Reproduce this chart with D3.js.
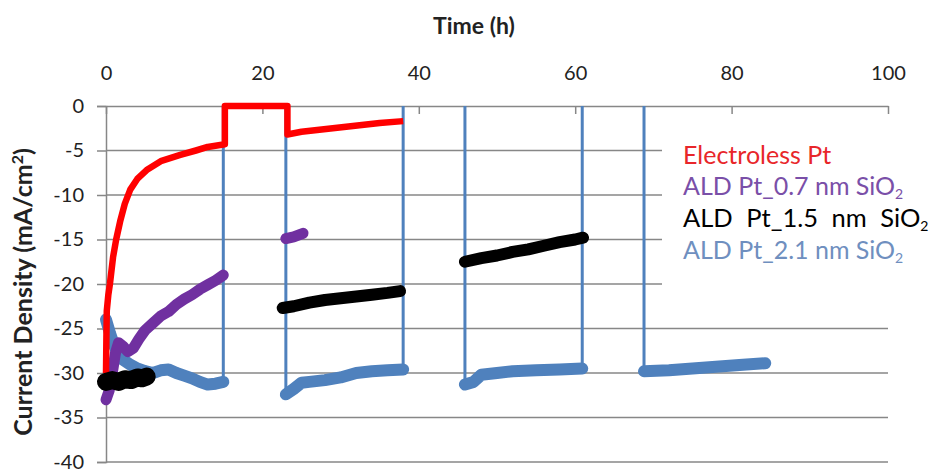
<!DOCTYPE html>
<html>
<head>
<meta charset="utf-8">
<script src="https://cdn.jsdelivr.net/npm/d3@7"></script>
<style>
  html, body { margin: 0; padding: 0; background: #fff; }
  svg { display: block; font-family: Lato, "Open Sans", sans-serif; }
</style>
</head>
<body>
<div id="chart"></div>
<script>
// ---- data ----
var timeTicks = [0, 20, 40, 60, 80, 100]
var densityTicks = [0, -5, -10, -15, -20, -25, -30, -35, -40]

var seriesNames = ['Electroless Pt', 'ALD Pt_0.7 nm SiO', 'ALD Pt_1.5 nm SiO', 'ALD Pt_2.1 nm SiO']
var seriesColors = ['#ff0000', '#7030a0', '#000000', '#4f81bd']
var legendColors = ['#e8262a', '#7a4fa8', '#000000', '#6f8fbf']

// electroless Pt: one continuous trace (open circuit at 0 between 15 and 23 h)
var electrolessPt = [
  [0, -30], [0.05, -26], [0.1, -23], [0.3, -21.2], [0.5, -20], [0.9, -17], [1.3, -15],
  [1.8, -13], [2.4, -11], [3.1, -9.4], [4, -8.2], [5.2, -7.2], [7, -6.2], [9.5, -5.5],
  [11.5, -5], [13, -4.6], [15.2, -4.3], [15.2, 0], [23.2, 0], [23.2, -3.2], [25, -2.9],
  [27, -2.7], [29, -2.5], [31, -2.3], [33, -2.1], [35, -1.9], [38, -1.7]
]

// ALD Pt 0.7 nm SiO2
var ald07 = [
  [[0, -33], [0.4, -32], [0.8, -30], [1.2, -27.8], [1.6, -26.6], [2.2, -27], [2.8, -27.6],
   [3.5, -27.2], [4.2, -26.2], [5, -25.2], [6, -24.4], [7, -23.6], [8, -23.1], [9, -22.3],
   [10, -21.7], [11, -21.2], [12, -20.6], [13, -20.1], [14, -19.6], [15, -19]],
  [[23, -14.9], [24, -14.7], [25.2, -14.3]]
]

// ALD Pt 1.5 nm SiO2
var ald15 = [
  [[0, -31], [0.8, -30.8], [1.6, -31], [2.4, -30.7], [3.2, -30.8], [4, -30.5],
   [4.6, -30.6], [5.2, -30.4]],
  [[22.6, -22.7], [24, -22.5], [26, -22.1], [28, -21.8], [30, -21.6], [32, -21.4],
   [34, -21.2], [36, -21], [37.6, -20.8]],
  [[45.9, -17.5], [48, -17.1], [50, -16.8], [52, -16.4], [54, -16.1], [56, -15.7],
   [58, -15.3], [60, -15], [61, -14.8]]
]

// ALD Pt 2.1 nm SiO2 (drops to 0 between runs)
var ald21 = [
  [[0, -24], [0.5, -25.5], [1, -26.8], [1.5, -27.8], [2, -28.4], [3, -29], [4, -29.5],
   [5, -29.8], [6, -30], [7, -29.7], [8, -29.6], [9, -30], [10, -30.3], [11, -30.6],
   [12, -31], [13, -31.3], [14, -31.2], [15, -31]],
  [[23, -32.4], [24, -31.8], [25, -31.1], [26, -31], [28, -30.8], [30, -30.5], [32, -30],
   [34, -29.8], [36, -29.7], [38, -29.6]],
  [[45.9, -31.3], [47, -31], [48, -30.2], [50, -30], [52, -29.8], [55, -29.7],
   [58, -29.6], [60.9, -29.5]],
  [[68.8, -29.8], [72, -29.7], [75, -29.5], [78, -29.3], [81, -29.1], [84.3, -28.9]]
]

// ---- setup ----
var width = 938, height = 470
var plotLeft = 106, plotRight = 888, plotTop = 106, plotBottom = 462

var svg = d3.select('#chart').append('svg')
  .attr('width', width).attr('height', height)

var x = d3.scaleLinear().domain([0, 100]).range([plotLeft, plotRight])
var y = d3.scaleLinear().domain([0, -40]).range([plotTop, plotBottom])

var line = d3.line()
  .x(function (d) { return x(d[0]) })
  .y(function (d) { return y(d[1]) })

// horizontal gridlines
svg.append('g').selectAll('line')
  .data(densityTicks.filter(function (d) { return d !== 0 }))
  .enter().append('line')
  .attr('x1', plotLeft).attr('x2', plotRight)
  .attr('y1', function (d) { return y(d) }).attr('y2', function (d) { return y(d) })
  .attr('stroke', '#878787').attr('stroke-width', 1.5)

// y axis (left, outer ticks)
var yAxis = svg.append('g')
  .attr('transform', 'translate(' + plotLeft + ',0)')
  .call(d3.axisLeft(y).tickValues(densityTicks).tickSize(9).tickPadding(13)
    .tickFormat(function (d) { return d === 0 ? '0' : String(d) }))
yAxis.select('.domain').attr('stroke', '#878787').attr('stroke-width', 1.5)
yAxis.selectAll('.tick line').attr('stroke', '#878787').attr('stroke-width', 1.5)
yAxis.selectAll('text').attr('font-size', 20).attr('fill', '#222').attr('font-family', 'Lato')

// x axis at y = 0 (top, inner ticks)
var xAxis = svg.append('g')
  .attr('transform', 'translate(0,' + plotTop + ')')
  .call(d3.axisTop(x).tickValues(timeTicks).tickSizeInner(-8).tickSizeOuter(0).tickPadding(26))
xAxis.select('.domain').attr('stroke', '#878787').attr('stroke-width', 1.5)
xAxis.selectAll('.tick line').attr('stroke', '#878787').attr('stroke-width', 1.5)
xAxis.selectAll('text').attr('font-size', 20).attr('fill', '#222').attr('font-family', 'Lato')

// axis titles
svg.append('text')
  .attr('x', 474).attr('y', 34)
  .attr('text-anchor', 'middle')
  .attr('font-size', 23).attr('font-weight', 'bold').attr('fill', '#222')
  .text('Time (h)')

var yTitle = svg.append('text')
  .attr('transform', 'translate(32,292) rotate(-90)')
  .attr('text-anchor', 'middle')
  .attr('font-size', 25).attr('font-weight', 'bold').attr('fill', '#222')
yTitle.append('tspan').text('Current Density (mA/cm')
yTitle.append('tspan').attr('baseline-shift', 'super').attr('font-size', 16).text('2')
yTitle.append('tspan').text(')')

// legend background hides the gridlines behind it
svg.append('rect')
  .attr('x', 662).attr('y', 128).attr('width', 276).attr('height', 172)
  .attr('fill', '#fff')

// ---- series ----
// blue switching lines: thin verticals from each run up to 0
ald21.forEach(function (seg, i) {
  var ends = []
  if (i > 0) ends.push(seg[0])
  if (i < ald21.length - 1) ends.push(seg[seg.length - 1])
  ends.forEach(function (p) {
    svg.append('line')
      .attr('x1', x(p[0])).attr('x2', x(p[0]))
      .attr('y1', y(0)).attr('y2', y(p[1]))
      .attr('stroke', seriesColors[3]).attr('stroke-width', 3)
  })
})

function drawSegments (segments, color, w) {
  segments.forEach(function (seg) {
    svg.append('path').datum(seg)
      .attr('d', line).attr('fill', 'none')
      .attr('stroke', color).attr('stroke-width', w)
      .attr('stroke-linejoin', 'round').attr('stroke-linecap', 'round')
  })
}

drawSegments(ald21, seriesColors[3], 12)
drawSegments(ald07, seriesColors[1], 11)

svg.append('path').datum(electrolessPt)
  .attr('d', line).attr('fill', 'none')
  .attr('stroke', seriesColors[0]).attr('stroke-width', 6.5)
  .attr('stroke-linejoin', 'round')

drawSegments(ald15.slice(0, 1), seriesColors[2], 18)
drawSegments(ald15.slice(1), seriesColors[2], 12)

// ---- legend (coloured text only) ----
var legendY = [164, 195, 227, 259]
seriesNames.forEach(function (name, i) {
  var t = svg.append('text')
    .attr('x', 683).attr('y', legendY[i])
    .attr('font-size', i === 2 ? 25.5 : 25)
    .attr('word-spacing', i === 2 ? 7 : 0)
    .attr('fill', legendColors[i])
  if (i === 0) {
    t.text(name)
  } else {
    t.append('tspan').text(name)
    t.append('tspan').attr('dy', 4).attr('font-size', 14).text('2')
  }
})
</script>
</body>
</html>
